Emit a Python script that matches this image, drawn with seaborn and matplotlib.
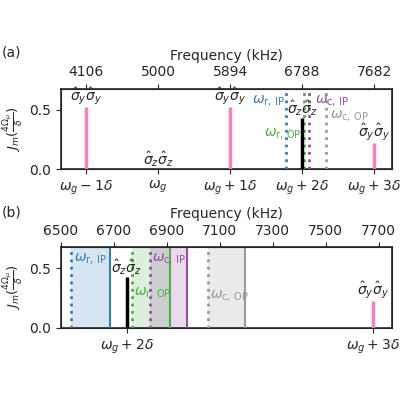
import numpy as np
import matplotlib
matplotlib.use('Agg')
import matplotlib.pyplot as plt
import seaborn as sns

# Sideband frequencies (kHz)
omega_g = 5000
delta = 894
orders = [-1, 0, 1, 2, 3]
order_labels = [r'$\omega_g - 1\delta$', r'$\omega_g$', r'$\omega_g + 1\delta$',
                r'$\omega_g + 2\delta$', r'$\omega_g + 3\delta$']
strengths = [0.52, 0.0, 0.52, 0.43, 0.22]
couplings = ['yy', 'zz', 'yy', 'zz', 'yy']

# Motional modes (kHz): dotted = mode frequency, solid = end of band
mode_names = ['r, IP', 'r, OP', 'c, IP', 'c, OP']
mode_freqs = [6588, 6806, 6872, 7083]
band_ends = [6726, 6945, 7007, 7216]

zoom_ticks = [6500, 6700, 6900, 7100, 7300, 7500, 7700]

sns.set_style('ticks')
plt.rcParams['font.family'] = ['DejaVu Sans']
plt.rcParams['mathtext.fontset'] = 'dejavusans'
pal = sns.color_palette('Set1')
mode_colors = [pal[1], pal[2], pal[3], pal[8]]
bar_colors = {'yy': pal[7], 'zz': 'black'}
coupling_tex = {'yy': r'$\hat{\sigma}_y\hat{\sigma}_y$', 'zz': r'$\hat{\sigma}_z\hat{\sigma}_z$'}
ylab = r'$J_m(\frac{4\Omega_\mu}{\delta})$'

freqs = [omega_g + m * delta for m in orders]

fig = plt.figure(figsize=(4, 4), dpi=100)
ax_a = fig.add_axes([0.1525, 0.577, 0.8275, 0.2005])
ax_b = fig.add_axes([0.1525, 0.181, 0.8275, 0.2005])


def draw_bars(ax, idx):
    for i in idx:
        c = bar_colors[couplings[i]]
        ax.vlines(freqs[i], 0, strengths[i], color=c, lw=2.5, zorder=4)
        ax.text(freqs[i], strengths[i], coupling_tex[couplings[i]], ha='center',
                va='bottom', fontsize=10, zorder=5)


def style(ax):
    for s in ax.spines.values():
        s.set_linewidth(1.2)
    ax.set_ylim(0, 0.675)
    ax.set_yticks([0.0, 0.5])
    ax.set_ylabel(ylab, fontsize=9.5)
    ax.yaxis.set_label_coords(-0.105, 0.5)
    ax.tick_params(labelsize=10)


# (a) overview
ax_a.set_xlim(omega_g - 1.35 * delta, omega_g + 3.25 * delta)
draw_bars(ax_a, range(5))
for f, col in zip(mode_freqs, mode_colors):
    ax_a.axvline(f, color=col, ls=':', lw=2, zorder=3)
a_text = [(mode_freqs[0] - 12, 0.567, 'right'), (mode_freqs[1] - 25, 0.29, 'right'),
          (mode_freqs[2] + 80, 0.567, 'left'), (mode_freqs[3] + 55, 0.44, 'left')]
for (x, y, ha), name, col in zip(a_text, mode_names, mode_colors):
    ax_a.text(x, y, r'$\omega_{\rm ' + name.replace(' ', r'\,') + '}$', color=col,
              ha=ha, va='center', fontsize=10)
ax_a.set_xticks(freqs)
ax_a.set_xticklabels(order_labels)
style(ax_a)
top_a = ax_a.twiny()
top_a.set_xlim(ax_a.get_xlim())
top_a.set_xticks(freqs)
top_a.set_xticklabels([str(f) for f in freqs])
top_a.set_xlabel('Frequency (kHz)', fontsize=10)
top_a.tick_params(labelsize=10)
fig.text(0.005, 0.87, '(a)', fontsize=10, va='center')

# (b) zoom on the modes
ax_b.set_xlim(6550, 7750)
draw_bars(ax_b, [3, 4])
for f, e, col in zip(mode_freqs, band_ends, mode_colors):
    ax_b.axvspan(f, e, color=col, alpha=0.2, lw=0, zorder=1)
    ax_b.axvline(f, color=col, ls=':', lw=2, zorder=3)
    ax_b.axvline(e, color=col, ls='-', lw=1.5, zorder=3)
b_y = [0.574, 0.286, 0.574, 0.263]
for f, y, name, col in zip(mode_freqs, b_y, mode_names, mode_colors):
    ax_b.text(f + 8, y, r'$\omega_{\rm ' + name.replace(' ', r'\,') + '}$', color=col,
              ha='left', va='center', fontsize=10)
ax_b.set_xticks(freqs[3:])
ax_b.set_xticklabels(order_labels[3:])
style(ax_b)
top_b = ax_b.twiny()
top_b.set_xlim(6500, 7750)
top_b.set_xticks(zoom_ticks)
top_b.set_xlabel('Frequency (kHz)', fontsize=10)
top_b.tick_params(labelsize=10)
fig.text(0.005, 0.468, '(b)', fontsize=10, va='center')

fig.savefig('out.png', dpi=100)
